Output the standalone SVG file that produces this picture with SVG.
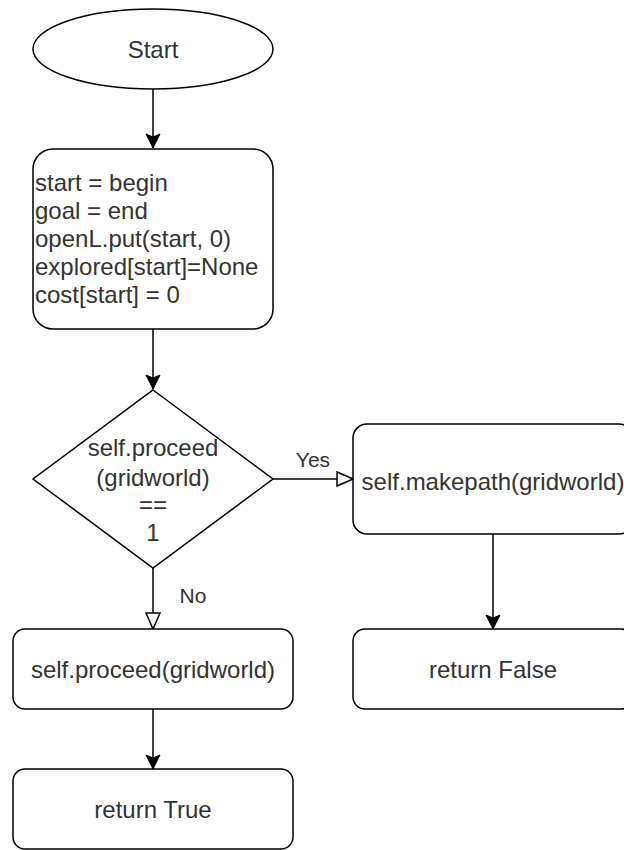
<svg xmlns="http://www.w3.org/2000/svg" width="624" height="850" viewBox="0 0 624 850">
  <style>
    .shape { fill: #ffffff; stroke: #000000; stroke-width: 1.5; }
    .edge { fill: none; stroke: #000000; stroke-width: 1.5; }
    .t { font-family: "Liberation Sans", Arial, sans-serif; font-size: 24px; fill: #333333; }
    .c { text-anchor: middle; }
    .lbl { font-family: "Liberation Sans", Arial, sans-serif; font-size: 21px; fill: #333333; }
  </style>
  <defs>
    <marker id="solid" viewBox="0 0 16 16" refX="15" refY="8" markerWidth="16" markerHeight="16" markerUnits="userSpaceOnUse" orient="auto">
      <path d="M1,1 L15,8 L1,15 L4,8 z" fill="#000000" stroke="#000000" stroke-width="1"/>
    </marker>
    <marker id="open" viewBox="0 0 18 18" refX="17" refY="9" markerWidth="18" markerHeight="18" markerUnits="userSpaceOnUse" orient="auto">
      <path d="M1,2 L17,9 L1,16 z" fill="#ffffff" stroke="#000000" stroke-width="1.5"/>
    </marker>
  </defs>
  <rect width="624" height="850" fill="#ffffff"/>

  <g id="connectors">
    <line class="edge" x1="153" y1="89" x2="153" y2="148" marker-end="url(#solid)"/>
    <line class="edge" x1="153" y1="329" x2="153" y2="389" marker-end="url(#solid)"/>
    <line class="edge" x1="273" y1="479" x2="353" y2="479" marker-end="url(#open)"/>
    <line class="edge" x1="153" y1="568" x2="153" y2="629" marker-end="url(#open)"/>
    <line class="edge" x1="493" y1="534" x2="493" y2="629" marker-end="url(#solid)"/>
    <line class="edge" x1="153" y1="709" x2="153" y2="769" marker-end="url(#solid)"/>
    <text class="lbl c" x="313" y="467">Yes</text>
    <text class="lbl c" x="193" y="603">No</text>
  </g>

  <g id="start">
    <ellipse class="shape" cx="153" cy="49" rx="120" ry="40"/>
    <text class="t c" x="153" y="58">Start</text>
  </g>

  <g id="init">
    <rect class="shape" x="33" y="149" width="240" height="180" rx="20" ry="20"/>
    <text class="t" x="35" y="191">start = begin</text>
    <text class="t" x="35" y="219">goal = end</text>
    <text class="t" x="35" y="247">openL.put(start, 0)</text>
    <text class="t" x="35" y="275">explored[start]=None</text>
    <text class="t" x="35" y="303">cost[start] = 0</text>
  </g>

  <g id="decision">
    <polygon class="shape" points="153,390 273,479 153,568 33,479"/>
    <text class="t c" x="153" y="456">self.proceed</text>
    <text class="t c" x="153" y="486">(gridworld)</text>
    <text class="t c" x="153" y="513">==</text>
    <text class="t c" x="153" y="541">1</text>
  </g>

  <g id="makepath">
    <rect class="shape" x="353" y="424" width="280" height="110" rx="14" ry="14"/>
    <text class="t c" x="493" y="490">self.makepath(gridworld)</text>
  </g>

  <g id="proceed">
    <rect class="shape" x="13" y="629" width="280" height="80" rx="12" ry="12"/>
    <text class="t c" x="153" y="678">self.proceed(gridworld)</text>
  </g>

  <g id="return-false">
    <rect class="shape" x="353" y="629" width="280" height="80" rx="12" ry="12"/>
    <text class="t c" x="493" y="678">return False</text>
  </g>

  <g id="return-true">
    <rect class="shape" x="13" y="769" width="280" height="80" rx="12" ry="12"/>
    <text class="t c" x="153" y="818">return True</text>
  </g>
</svg>
